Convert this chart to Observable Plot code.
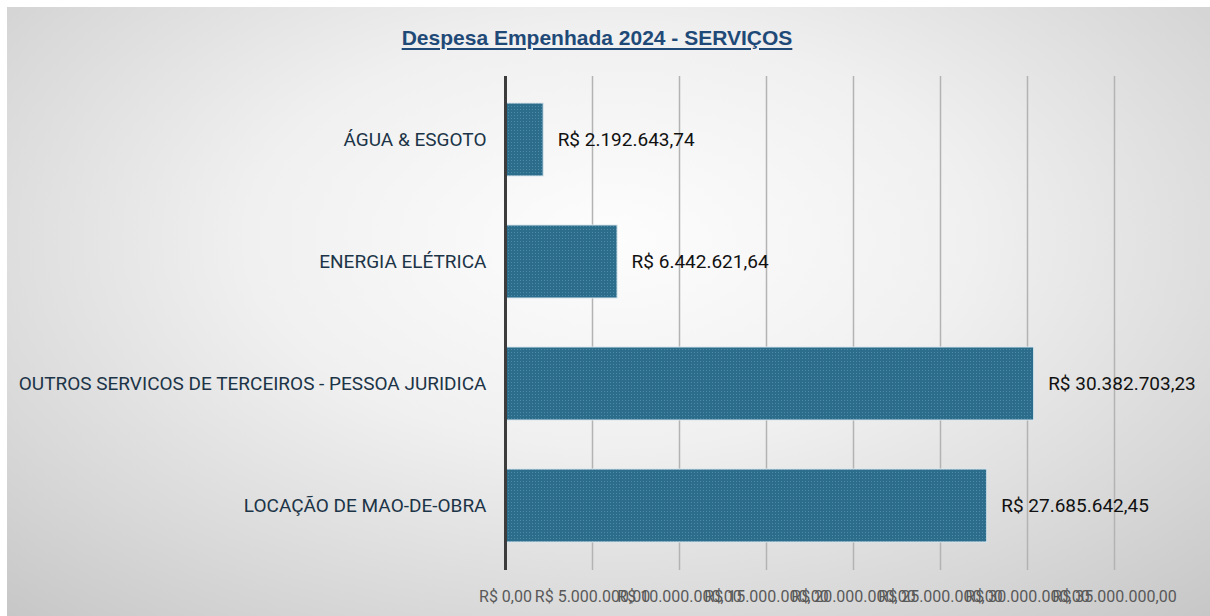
<!DOCTYPE html>
<html>
<head>
<meta charset="utf-8">
<script src="https://cdn.jsdelivr.net/npm/d3@7"></script>
<script src="https://cdn.jsdelivr.net/npm/@observablehq/plot@0.6"></script>
<style>
  html, body { margin: 0; padding: 0; background: #ffffff; }
  #frame {
    position: absolute; left: 7px; top: 7px; width: 1203px; height: 609px;
    background: radial-gradient(ellipse 75% 85% at 50% 38%, #fdfdfd 0%, #f0f0f0 40%, #d8d8d8 75%, #c6c6c6 100%);
    overflow: hidden;
  }
  #title {
    position: absolute; left: 0; top: 26px; width: 1194px; text-align: center;
    font-family: "Liberation Sans", Arial, sans-serif; font-weight: bold; font-size: 21px;
    color: #1f4a78; text-decoration: underline; text-underline-offset: 3px; text-decoration-thickness: 2px;
  }
  #chart { position: absolute; left: 0; top: 0; }
</style>
</head>
<body>
<div id="frame"></div>
<div id="title">Despesa Empenhada 2024 - SERVIÇOS</div>
<div id="chart"></div>
<script>
const categories = ["ÁGUA & ESGOTO", "ENERGIA ELÉTRICA", "OUTROS SERVICOS DE TERCEIROS - PESSOA JURIDICA", "LOCAÇÃO DE MAO-DE-OBRA"];
const values = [2192643.74, 6442621.64, 30382703.23, 27685642.45];
const xTicks = [0, 5000000, 10000000, 15000000, 20000000, 25000000, 30000000, 35000000];

function brl(v) {
  const [int, dec] = v.toFixed(2).split(".");
  return "R$ " + int.replace(/\B(?=(\d{3})+(?!\d))/g, ".") + "," + dec;
}

const data = categories.map((c, i) => ({category: c, value: values[i]}));

const plot = Plot.plot({
  width: 1210,
  height: 616,
  marginLeft: 505,
  marginRight: 96,
  marginTop: 76,
  marginBottom: 46,
  style: {background: "transparent", fontFamily: "Roboto, sans-serif", fontSize: "19px", overflow: "visible"},
  x: {domain: [0, 35000000], ticks: xTicks, tickFormat: brl, label: null},
  y: {domain: categories, label: null, paddingInner: 0.4, paddingOuter: 0.22},
  marks: [
    Plot.ruleX(xTicks.slice(1), {stroke: "#b3b3b3", strokeWidth: 1.5}),
    Plot.barX(data, {x: "value", y: "category", fill: "url(#dots)", stroke: "#d9e6ec", strokeWidth: 1}),
    Plot.ruleX([0], {stroke: "#3c3c3c", strokeWidth: 3}),
    Plot.text(data, {x: "value", y: "category", text: d => brl(d.value), dx: 14, textAnchor: "start", fill: "#111", fontSize: 19}),
    Plot.axisX({ticks: xTicks, tickFormat: brl, tickSize: 0, tickPadding: 20, fill: "#595959", fontSize: 16, label: null}),
    Plot.axisY({tickSize: 0, tickPadding: 19, fill: "#1c3447", fontSize: 19, label: null})
  ]
});

const svg = d3.select(plot);
const defs = svg.insert("defs", ":first-child");
const pat = defs.append("pattern").attr("id", "dots").attr("width", 3).attr("height", 3).attr("patternUnits", "userSpaceOnUse");
pat.append("rect").attr("width", 3).attr("height", 3).attr("fill", "#2d6d8c");
pat.append("rect").attr("x", 1).attr("y", 1).attr("width", 1).attr("height", 1).attr("fill", "#4f8aa5");

document.getElementById("chart").appendChild(plot);
</script>
</body>
</html>
